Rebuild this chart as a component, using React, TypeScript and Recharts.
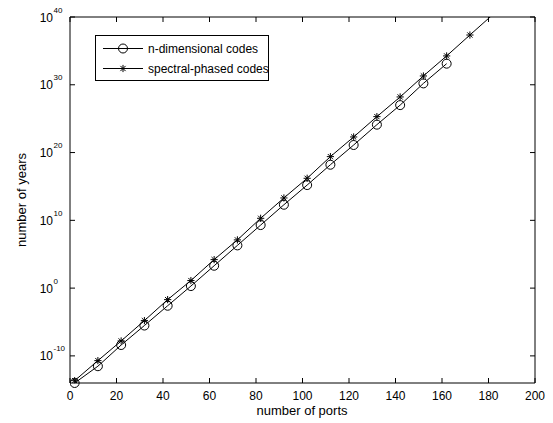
import React from 'react';
import { LineChart, Line, XAxis, YAxis } from 'recharts';

const ports = [2, 12, 22, 32, 42, 52, 62, 72, 82, 92, 102, 112, 122, 132, 142, 152, 162, 172, 182];
const nDimensionalYears = [
  1e-14, 3e-12, 4e-9, 3e-6, 2.5e-3, 2, 2e3, 2e6, 2e9, 2e12, 1.6e15, 1.6e18, 1.3e21, 1.3e24, 1e27, 1.6e30, 1.3e33,
];
const spectralPhasedYears = [
  2.2e-14, 2e-11, 1.6e-8, 1.6e-5, 0.02, 13, 1.6e4, 1.3e7, 2e10, 2e13, 1.6e16, 2.5e19, 2e22, 2e25, 1.6e28, 2e31, 1.8e34,
  2.2e37, 2.5e40,
];
const xTicks = [0, 20, 40, 60, 80, 100, 120, 140, 160, 180, 200];
const yTicks = [1e-10, 1, 1e10, 1e20, 1e30, 1e40];
const xDomain: [number, number] = [0, 200];
const yDomain: [number, number] = [1e-14, 1e40];
const legendLabels = ['n-dimensional codes', 'spectral-phased codes'];
const xLabel = 'number of ports';
const yLabel = 'number of years';

const FONT = '"Liberation Sans", Arial, Helvetica, sans-serif';

const data = ports.map((port, i) => ({
  port,
  nDim: nDimensionalYears[i] ?? null,
  spectral: spectralPhasedYears[i] ?? null,
}));

const XTick = (props: any) => {
  const { x, y, payload } = props;
  return (
    <text x={x} y={y + 17} textAnchor="middle" fontSize={12} fontFamily={FONT} fill="#000">
      {payload.value}
    </text>
  );
};

const YTick = (props: any) => {
  const { x, y, payload } = props;
  const e = Math.round(Math.log10(payload.value));
  return (
    <g>
      <text x={x} y={y + 4.5} textAnchor="end" fontSize={12} fontFamily={FONT} fill="#000">
        10
      </text>
      <text x={x + 0.5} y={y - 4.5} textAnchor="start" fontSize={8} fontFamily={FONT} fill="#000">
        {e}
      </text>
    </g>
  );
};

const NoTick = () => <g />;

const CircleMark = ({ cx, cy }: { cx: number; cy: number }) => (
  <circle cx={cx} cy={cy} r={4.5} fill="none" stroke="#000" strokeWidth={1} />
);

const StarMark = ({ cx, cy }: { cx: number; cy: number }) => {
  const a = 3.6;
  const d = 2.6;
  return (
    <g stroke="#000" strokeWidth={1}>
      <line x1={cx - a} y1={cy} x2={cx + a} y2={cy} />
      <line x1={cx} y1={cy - a} x2={cx} y2={cy + a} />
      <line x1={cx - d} y1={cy - d} x2={cx + d} y2={cy + d} />
      <line x1={cx - d} y1={cy + d} x2={cx + d} y2={cy - d} />
    </g>
  );
};

const circleDot = (props: any) => {
  const { cx, cy, value, index } = props;
  if (cx == null || cy == null || value == null) return <g key={`c${index}`} />;
  return (
    <g key={`c${index}`}>
      <CircleMark cx={cx} cy={cy} />
    </g>
  );
};

const starDot = (props: any) => {
  const { cx, cy, value, index } = props;
  if (cx == null || cy == null || value == null || value > yDomain[1]) return <g key={`s${index}`} />;
  return (
    <g key={`s${index}`}>
      <StarMark cx={cx} cy={cy} />
    </g>
  );
};

export default function App() {
  return (
    <div style={{ position: 'absolute', left: 0, top: 0, width: 553, height: 423, background: '#fff' }}>
      <LineChart width={553} height={423} data={data} margin={{ top: 16, right: 17, bottom: 10, left: 10 }}>
        <XAxis
          xAxisId="bottom"
          dataKey="port"
          type="number"
          domain={xDomain}
          ticks={xTicks}
          allowDataOverflow
          height={30}
          stroke="#000"
          tickSize={-5}
          tickMargin={5}
          tick={<XTick />}
          interval={0}
        />
        <XAxis
          xAxisId="top"
          orientation="top"
          dataKey="port"
          type="number"
          domain={xDomain}
          ticks={xTicks}
          allowDataOverflow
          height={1}
          stroke="#000"
          tickSize={-5}
          tick={<NoTick />}
          interval={0}
        />
        <YAxis
          yAxisId="left"
          type="number"
          scale="log"
          domain={yDomain}
          ticks={yTicks}
          width={60}
          stroke="#000"
          tickSize={-5}
          tickMargin={22}
          tick={<YTick />}
          interval={0}
        />
        <YAxis
          yAxisId="right"
          orientation="right"
          type="number"
          scale="log"
          domain={yDomain}
          ticks={yTicks}
          allowDataOverflow
          width={1}
          stroke="#000"
          tickSize={-5}
          tick={<NoTick />}
          interval={0}
        />
        <YAxis yAxisId="clip" type="number" scale="log" domain={yDomain} allowDataOverflow hide width={0} />
        <Line
          xAxisId="top"
          yAxisId="right"
          dataKey="nDim"
          stroke="none"
          dot={false}
          activeDot={false}
          isAnimationActive={false}
          legendType="none"
        />
        <Line
          xAxisId="bottom"
          yAxisId="left"
          dataKey="nDim"
          stroke="#000"
          strokeWidth={1}
          dot={circleDot}
          activeDot={false}
          isAnimationActive={false}
          type="linear"
        />
        <Line
          xAxisId="bottom"
          yAxisId="clip"
          dataKey="spectral"
          stroke="#000"
          strokeWidth={1}
          dot={starDot}
          activeDot={false}
          isAnimationActive={false}
          type="linear"
        />
      </LineChart>
      <svg
        width={553}
        height={423}
        style={{ position: 'absolute', left: 0, top: 0, pointerEvents: 'none' }}
      >
        <text x={302} y={415} textAnchor="middle" fontSize={13} fontFamily={FONT} fill="#000">
          {xLabel}
        </text>
        <text
          x={26}
          y={200}
          textAnchor="middle"
          fontSize={13}
          fontFamily={FONT}
          fill="#000"
          transform="rotate(-90, 26, 200)"
        >
          {yLabel}
        </text>
        <rect x={95.5} y={35.5} width={173} height={45} fill="#fff" stroke="#000" strokeWidth={1} />
        <line x1={103} y1={48.5} x2={143} y2={48.5} stroke="#000" strokeWidth={1} />
        <CircleMark cx={123} cy={48.5} />
        <text x={148} y={52.5} fontSize={12} fontFamily={FONT} fill="#000">
          {legendLabels[0]}
        </text>
        <line x1={103} y1={68.5} x2={143} y2={68.5} stroke="#000" strokeWidth={1} />
        <StarMark cx={123} cy={68.5} />
        <text x={148} y={72.5} fontSize={12} fontFamily={FONT} fill="#000">
          {legendLabels[1]}
        </text>
      </svg>
    </div>
  );
}
